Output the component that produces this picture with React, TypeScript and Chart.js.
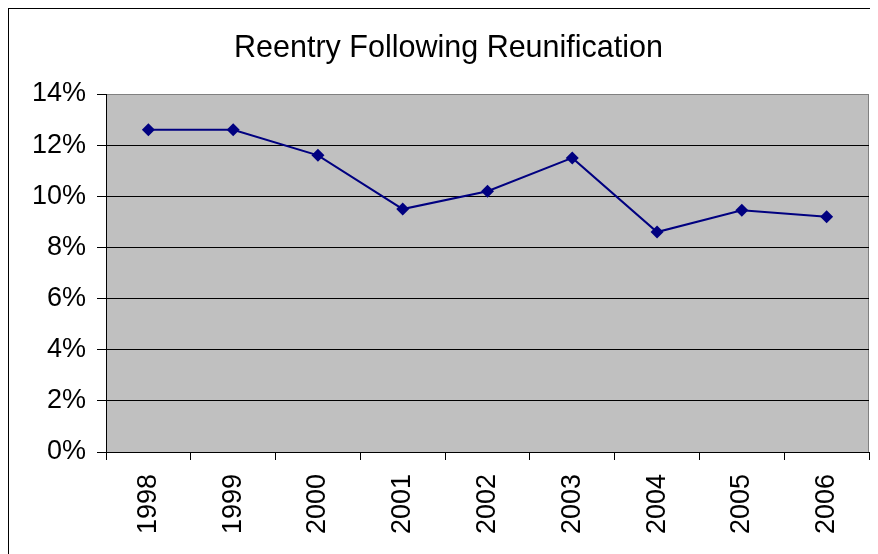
import React, { useEffect, useRef } from "react";
import { Chart, registerables } from "chart.js";

Chart.register(...registerables);

const TITLE = "Reentry Following Reunification";
const YEARS = ["1998", "1999", "2000", "2001", "2002", "2003", "2004", "2005", "2006"];
const REENTRY_PCT = [12.6, 12.6, 11.6, 9.5, 10.2, 11.5, 8.6, 9.45, 9.2];
const Y_MIN = 0;
const Y_MAX = 14;
const Y_STEP = 2;

const FONT = '"Liberation Sans", Arial, Helvetica, sans-serif';

const plotBgPlugin = {
  id: "plotBg",
  beforeDraw(chart: any) {
    const { ctx, chartArea } = chart;
    if (!chartArea) return;
    ctx.save();
    ctx.fillStyle = "#C0C0C0";
    ctx.fillRect(chartArea.left, chartArea.top, chartArea.right - chartArea.left, chartArea.bottom - chartArea.top);
    ctx.strokeStyle = "#808080";
    ctx.lineWidth = 1;
    ctx.strokeRect(chartArea.left + 0.5, chartArea.top + 0.5, chartArea.right - chartArea.left - 1, chartArea.bottom - chartArea.top);
    ctx.restore();
  },
};

const titlePlugin = {
  id: "customTitle",
  afterDraw(chart: any) {
    const { ctx } = chart;
    ctx.save();
    ctx.font = `30.5px ${FONT}`;
    ctx.fillStyle = "#000";
    ctx.textAlign = "center";
    ctx.textBaseline = "alphabetic";
    ctx.fillText(TITLE, 439.5, 48);
    ctx.restore();
  },
};

export default function App() {
  const canvasRef = useRef<HTMLCanvasElement | null>(null);

  useEffect(() => {
    if (!canvasRef.current) return;
    const chart = new Chart(canvasRef.current, {
      type: "line",
      data: {
        labels: YEARS,
        datasets: [
          {
            label: TITLE,
            data: REENTRY_PCT,
            borderColor: "#000080",
            backgroundColor: "#000080",
            borderWidth: 2,
            pointStyle: "rectRot",
            pointRadius: 6.5,
            pointBackgroundColor: "#000080",
            pointBorderColor: "#000080",
            pointBorderWidth: 0,
            tension: 0,
            fill: false,
          },
        ],
      },
      options: {
        responsive: false,
        animation: false,
        layout: { padding: { left: 0, right: 9, top: 85, bottom: 0 } },
        plugins: {
          legend: { display: false },
          title: { display: false },
          tooltip: { enabled: false },
        },
        scales: {
          x: {
            offset: true,
            grid: {
              offset: true,
              drawOnChartArea: false,
              color: "#000",
              tickLength: 8,
              lineWidth: 1,
            },
            border: { color: "#000", width: 1 },
            ticks: {
              color: "#000",
              font: { family: FONT, size: 27 },
              minRotation: 90,
              maxRotation: 90,
              padding: 14,
              autoSkip: false,
            },
            afterFit(scale: any) {
              scale.height = 102;
            },
          },
          y: {
            min: Y_MIN,
            max: Y_MAX,
            grid: {
              color: (c: any) => (c.tick && c.tick.value === Y_MAX ? "#808080" : "#000"),
              tickColor: "#000",
              tickLength: 9,
              lineWidth: 1,
            },
            border: { color: "#000", width: 1 },
            ticks: {
              stepSize: Y_STEP,
              color: "#000",
              font: { family: FONT, size: 27 },
              padding: 11,
              callback: (v: any) => `${v}%`,
            },
            afterFit(scale: any) {
              scale.width = 97;
            },
          },
        },
      },
      plugins: [plotBgPlugin, titlePlugin],
    });
    return () => chart.destroy();
  }, []);

  return (
    <div
      style={{
        borderLeft: "1px solid #000",
        borderTop: "1px solid #000",
        width: 869,
        height: 545,
        overflow: "hidden",
        background: "#fff",
      }}
    >
      <canvas ref={canvasRef} width={869} height={545} style={{ display: "block" }} />
    </div>
  );
}
